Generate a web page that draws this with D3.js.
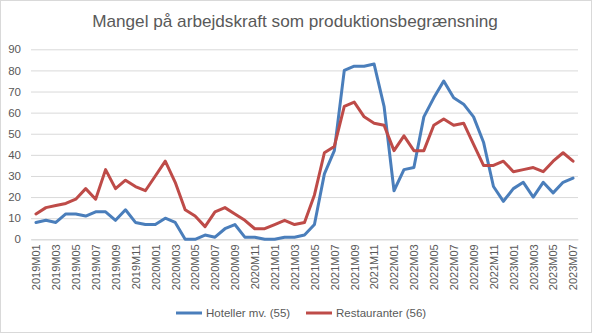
<!DOCTYPE html>
<html><head><meta charset="utf-8">
<script src="https://cdn.jsdelivr.net/npm/d3@7"></script>
<style>body{margin:0;background:#fff}svg{display:block}text{font-family:"Liberation Sans",Arial,sans-serif;fill:#595959}</style>
</head><body>
<svg id="c" width="592" height="333"></svg>
<script>
const title = "Mangel på arbejdskraft som produktionsbegrænsning";
const months = [];
for (let y = 2019; y <= 2023; y++) for (let m = 1; m <= 12; m++) { if (y === 2023 && m > 7) break; months.push(y + "M" + String(m).padStart(2, "0")); }
const seriesNames = ["Hoteller mv. (55)", "Restauranter (56)"];
const seriesColors = ["#4a7ebb", "#be4b48"];
const hoteller = [8,9,8,12,12,11,13,13,9,14,8,7,7,10,8,0,0,2,1,5,7,1,1,0,0,1,1,2,7,31,42,80,82,82,83,63,23,33,34,58,67,75,67,64,58,46,25,18,24,27,20,27,22,27,29];
const restauranter = [12,15,16,17,19,24,19,33,24,28,25,23,30,37,27,14,11,6,13,15,12,9,5,5,7,9,7,8,21,41,44,63,65,58,55,54,42,49,42,42,54,57,54,55,45,35,35,37,32,33,34,32,37,41,37];
const yTicks = [0,10,20,30,40,50,60,70,80,90];

const svg = d3.select("#c");
svg.append("rect").attr("x",0.5).attr("y",0.5).attr("width",591).attr("height",332).attr("fill","#fff").attr("stroke","#d9d9d9");

const plot = {left: 31, right: 578, top: 49.3, bottom: 239.3};
const x = d3.scalePoint().domain(months).range([plot.left, plot.right]).padding(0.5);
const y = d3.scaleLinear().domain([0, 90]).range([plot.bottom, plot.top]);

// title
const t = svg.append("text").attr("x", 295).attr("y", 27).attr("text-anchor","middle").style("font-size","17px").text(title);
const tw = t.node().getComputedTextLength();
t.style("font-size", (17 * 406 / tw) + "px");

// grid
const yAxis = d3.axisLeft(y).tickValues(yTicks).tickSize(-(plot.right - plot.left)).tickPadding(8);
const gy = svg.append("g").attr("transform", `translate(${plot.left},0)`).call(yAxis);
gy.select(".domain").remove();
gy.selectAll(".tick line").attr("stroke", "#d9d9d9");
gy.selectAll(".tick text").style("font-size","11.5px").attr("fill","#595959").attr("x", -10);

// x axis
const xAxis = d3.axisBottom(x).tickValues(months.filter((d,i)=>i%2===0)).tickSize(0).tickPadding(0);
const gx = svg.append("g").attr("transform", `translate(0,${plot.bottom})`).call(xAxis);
gx.select(".domain").attr("stroke","#d9d9d9");
gx.selectAll(".tick text").style("font-size","11px").attr("fill","#595959")
  .attr("transform","rotate(-90)").attr("text-anchor","end").attr("dx","-5px").attr("dy","0.35em").attr("x",0).attr("y",0);

// lines
const line = d3.line().x((d,i)=>x(months[i])).y(d=>y(d));
[hoteller, restauranter].forEach((s, k) => {
  svg.append("path").datum(s).attr("d", line).attr("fill","none").attr("stroke", seriesColors[k])
    .attr("stroke-width", 3).attr("stroke-linejoin","round").attr("stroke-linecap","round");
});

// legend
const legX = [176, 306];
seriesNames.forEach((n, k) => {
  const g = svg.append("g").attr("transform", `translate(${legX[k]},313)`);
  g.append("line").attr("x1",0).attr("x2",26).attr("stroke",seriesColors[k]).attr("stroke-width",3);
  g.append("text").attr("x",30).attr("y",4).style("font-size","11.5px").text(n);
});
</script>
</body></html>
